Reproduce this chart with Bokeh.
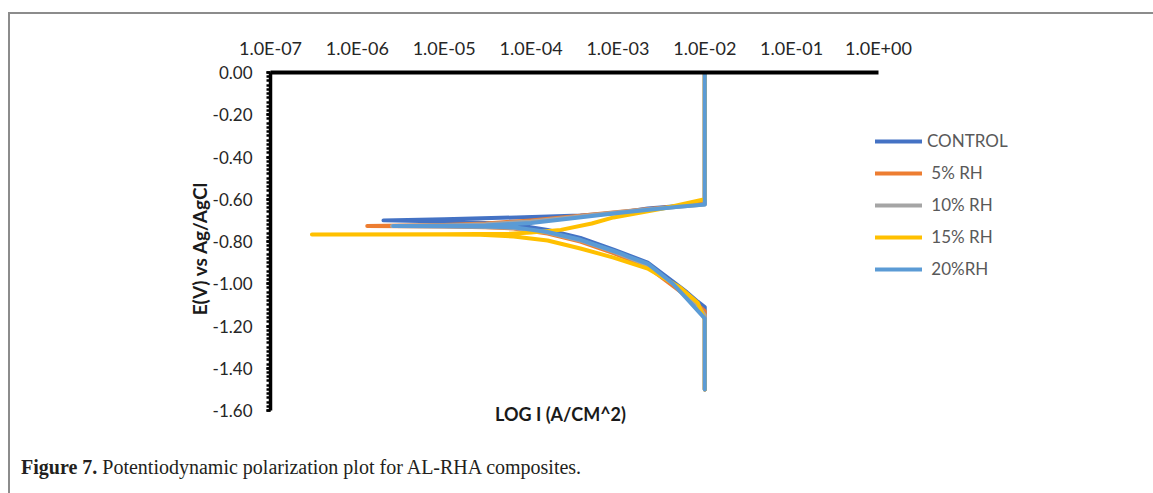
from bokeh.plotting import figure
from bokeh.layouts import column
from bokeh.models import (FixedTicker, CustomJSTickFormatter, Legend, LegendItem,
                          Label, Div, Range1d)
from bokeh.embed import file_html
from bokeh.resources import INLINE

# ---- data ----
x_ticks = [1e-7, 1e-6, 1e-5, 1e-4, 1e-3, 1e-2, 1e-1, 1e0]
x_tick_labels = ["1.0E-07", "1.0E-06", "1.0E-05", "1.0E-04", "1.0E-03", "1.0E-02", "1.0E-01", "1.0E+00"]
y_ticks = [-1.6, -1.4, -1.2, -1.0, -0.8, -0.6, -0.4, -0.2, 0.0]
y_minor = [round(-1.6 + 0.02 * k, 2) for k in range(81)]

series_names = ["CONTROL", " 5% RH", " 10% RH", " 15% RH", " 20%RH"]
series_colors = ["#4472C4", "#ED7D31", "#A5A5A5", "#FFC000", "#5B9BD5"]

control_i = [1e-2, 1e-2, 5e-3, 2.2e-3, 1e-3, 3.7e-4, 4.5e-5, 1e-5, 2e-6,
             1e-5, 3e-5, 6.3e-5, 1.55e-4, 3.7e-4, 8.9e-4, 2.2e-3, 4.3e-3, 6.2e-3, 8.3e-3, 1e-2, 1e-2]
control_e = [0.0, -0.62, -0.632, -0.644, -0.665, -0.677, -0.688, -0.695, -0.700,
             -0.705, -0.712, -0.720, -0.745, -0.783, -0.838, -0.900, -0.990, -1.040, -1.085, -1.110, -1.50]

rh5_i = [1e-2, 1e-2, 5e-3, 2e-3, 1e-3, 3e-4, 1e-4, 3e-5, 1e-5, 1.3e-6,
         1e-5, 3e-5, 6.3e-5, 1.55e-4, 3.7e-4, 8.9e-4, 2.2e-3, 4.3e-3, 6.2e-3, 8.3e-3, 1e-2, 1e-2]
rh5_e = [0.0, -0.62, -0.633, -0.648, -0.660, -0.682, -0.700, -0.715, -0.722, -0.727,
         -0.729, -0.732, -0.738, -0.762, -0.800, -0.855, -0.920, -1.010, -1.060, -1.100, -1.130, -1.50]

rh10_i = [1e-2, 1e-2, 5e-3, 2e-3, 1e-3, 3e-4, 1e-4, 3e-5, 1e-5, 2.5e-6,
          1e-5, 3e-5, 6.3e-5, 1.55e-4, 3.7e-4, 8.9e-4, 2.2e-3, 4.3e-3, 6.2e-3, 8.3e-3, 1e-2, 1e-2]
rh10_e = [0.0, -0.625, -0.636, -0.650, -0.662, -0.685, -0.705, -0.718, -0.724, -0.727,
          -0.728, -0.731, -0.736, -0.758, -0.795, -0.848, -0.912, -1.000, -1.050, -1.100, -1.150, -1.50]

rh15_i = [1e-2, 1e-2, 3.3e-3, 8.9e-4, 5e-4, 2.2e-4, 1e-4, 5.7e-5, 1e-5, 3e-7,
          1e-5, 2.6e-5, 6.3e-5, 1.55e-4, 3.7e-4, 8.9e-4, 2.2e-3, 5.2e-3, 8.3e-3, 1e-2, 1e-2]
rh15_e = [0.0, -0.600, -0.644, -0.686, -0.715, -0.745, -0.757, -0.763, -0.766, -0.767,
          -0.767, -0.768, -0.776, -0.795, -0.833, -0.876, -0.928, -1.018, -1.090, -1.170, -1.50]

rh20_i = [1e-2, 1e-2, 5e-3, 2e-3, 1e-3, 3e-4, 1e-4, 3e-5, 2.6e-6,
          3e-5, 6.3e-5, 1.55e-4, 3.7e-4, 8.9e-4, 1.07e-3, 1.3e-3, 2.2e-3, 4.3e-3, 6.2e-3,
          9.8e-3, 1e-2, 1e-2]
rh20_e = [0.0, -0.625, -0.636, -0.652, -0.665, -0.690, -0.712, -0.724, -0.727,
          -0.729, -0.733, -0.755, -0.792, -0.845, -0.856, -0.870, -0.905, -1.000, -1.070,
          -1.160, -1.165, -1.50]

series_i = [control_i, rh5_i, rh10_i, rh15_i, rh20_i]
series_e = [control_e, rh5_e, rh10_e, rh15_e, rh20_e]

# ---- layout geometry (page pixels) ----
W = 1153
OX, OY = 10, 14                    # content origin inside the gray page rule
AX_L, AX_T, AX_R, AX_B = 270, 72, 878, 410     # where the axes lie on the page
FR_R, FR_B = 1150, 424                        # frame extends beyond the axes
FIG_W = W - OX
FIG_H = 440 - OY

px_per_decade = (AX_R - AX_L) / 7.0
x_end = 10 ** (-7 + (FR_R - AX_L) / px_per_decade)
px_per_volt = (AX_B - AX_T) / 1.6
y_start = -1.6 - (FR_B - AX_B) / px_per_volt

p = figure(width=FIG_W, height=FIG_H, x_axis_type="log", x_axis_location="above",
           x_range=Range1d(1e-7, x_end), y_range=Range1d(y_start, 0.0),
           output_backend="svg", toolbar_location=None,
           min_border_left=AX_L - OX, min_border_right=FIG_W - (FR_R - OX),
           min_border_top=AX_T - OY, min_border_bottom=FIG_H - (FR_B - OY))
p.outline_line_color = None
p.xgrid.visible = False
p.ygrid.visible = False
p.background_fill_color = "white"
p.border_fill_color = "white"

TICK_FONT = "Lato"
xa = p.xaxis[0]
xa.bounds = (1e-7, 1.0)
xa.ticker = FixedTicker(ticks=x_ticks, minor_ticks=[])
xa.formatter = CustomJSTickFormatter(args=dict(labels=x_tick_labels), code="""
    const k = Math.round(Math.log10(tick)) + 7;
    return labels[k];
""")
xa.axis_line_width = 4
xa.axis_line_color = "black"
xa.major_tick_out = 0
xa.major_tick_in = 0
xa.minor_tick_out = 0
xa.minor_tick_in = 0
xa.major_label_standoff = 14
xa.major_label_text_font = TICK_FONT
xa.major_label_text_font_size = "18px"
xa.major_label_text_color = "#262626"

ya = p.yaxis[0]
ya.bounds = (-1.6, 0.0)
ya.ticker = FixedTicker(ticks=y_ticks, minor_ticks=y_minor)
ya.formatter = CustomJSTickFormatter(code="return tick.toFixed(2);")
ya.axis_line_width = 3.5
ya.axis_line_color = "black"
ya.major_tick_out = 4
ya.major_tick_in = 0
ya.major_tick_line_width = 2.5
ya.minor_tick_out = 4
ya.minor_tick_in = 0
ya.minor_tick_line_width = 2.5
ya.major_label_standoff = 14
ya.major_label_text_font = TICK_FONT
ya.major_label_text_font_size = "17px"
ya.major_label_text_color = "#262626"
ya.axis_label = "E(V) vs Ag/AgCl"
ya.axis_label_text_font = TICK_FONT
ya.axis_label_text_font_style = "bold"
ya.axis_label_text_font_size = "19px"
ya.axis_label_text_color = "#1a1a1a"
ya.axis_label_standoff = -1

renderers = []
for xs, ys, c in zip(series_i, series_e, series_colors):
    r = p.line(xs, ys, line_color=c, line_width=4, line_cap="round", line_join="round")
    renderers.append(r)

legend = Legend(items=[LegendItem(label=n, renderers=[r]) for n, r in zip(series_names, renderers)],
                location=(875 - AX_L, FR_B - 279), glyph_width=47, glyph_height=20,
                label_standoff=5, spacing=11, padding=0, margin=0, border_line_color=None,
                background_fill_alpha=0, label_text_font=TICK_FONT,
                label_text_font_size="17px", label_text_color="#595959",
                label_height=20)
p.add_layout(legend)

# x-axis title just below the axes
p.add_layout(Label(x=560 - AX_L, y=FR_B - 413, x_units="screen", y_units="screen",
                   text="LOG I (A/CM^2)", text_align="center", text_baseline="middle",
                   text_font=TICK_FONT, text_font_style="bold", text_font_size="18px",
                   text_color="#1a1a1a"))

caption = Div(text='<span style="font-weight:bold">Figure 7.</span> '
                   'Potentiodynamic polarization plot for AL-RHA composites.',
              width=FIG_W - 20, height=45,
              styles={"font-family": "'Liberation Serif', serif", "font-size": "20px",
                      "color": "#231f20", "padding-left": "6px", "padding-top": "8px"})

page = column(p, caption, margin=(12, 0, 0, 8),
              styles={"border-top": "2px solid #8c8c8c", "border-left": "2px solid #8c8c8c",
                      "background-color": "white"})

open("out.html", "w").write(file_html(page, INLINE))
